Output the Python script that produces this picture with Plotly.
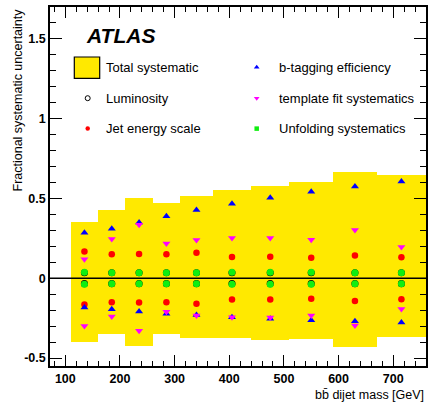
import plotly.graph_objects as go

# Bin edges of the b-bbar dijet mass distribution [GeV]
mass_edges = [110, 160, 210, 260, 310, 370, 440, 510, 590, 670, 760]

# Total systematic band (upper / lower edge), fractional
total_up = [0.350, 0.425, 0.506, 0.469, 0.513, 0.550, 0.581, 0.606, 0.669, 0.650]
total_down = [-0.398, -0.348, -0.423, -0.348, -0.373, -0.373, -0.385, -0.379, -0.429, -0.367]

# Individual components
lumi_up = [0.034, 0.034, 0.034, 0.034, 0.034, 0.034, 0.034, 0.034, 0.034, 0.034]
lumi_down = [-0.034, -0.034, -0.034, -0.034, -0.034, -0.034, -0.034, -0.034, -0.034, -0.034]
jes_up = [0.167, 0.150, 0.152, 0.150, 0.160, 0.133, 0.135, 0.129, 0.142, 0.131]
jes_down = [-0.165, -0.150, -0.152, -0.150, -0.160, -0.133, -0.133, -0.129, -0.142, -0.131]
btag_up = [0.285, 0.310, 0.350, 0.388, 0.427, 0.467, 0.504, 0.542, 0.575, 0.606]
btag_down = [-0.183, -0.194, -0.208, -0.223, -0.231, -0.244, -0.254, -0.263, -0.269, -0.277]
tmpl_up = [0.119, 0.246, 0.335, 0.217, 0.240, 0.252, 0.252, 0.242, 0.302, 0.196]
tmpl_down = [-0.300, -0.240, -0.329, -0.210, -0.233, -0.244, -0.246, -0.233, -0.296, -0.192]
unfold_up = [0.037, 0.035, 0.035, 0.035, 0.035, 0.037, 0.037, 0.037, 0.035, 0.035]
unfold_down = [-0.037, -0.035, -0.035, -0.035, -0.035, -0.037, -0.037, -0.037, -0.035, -0.035]

# Axis tick labels
y_tickvals = [-0.5, 0, 0.5, 1, 1.5]
y_ticktext = ["-0.5", "0", "0.5", "1", "1.5"]
x_tickvals = [100, 200, 300, 400, 500, 600, 700]
x_ticktext = ["100", "200", "300", "400", "500", "600", "700"]

legend_labels = ["Total systematic", "Luminosity", "Jet energy scale",
                 "b-tagging efficiency", "template fit systematics", "Unfolding systematics"]

centers = [(a + b) / 2 for a, b in zip(mass_edges[:-1], mass_edges[1:])]
widths = [b - a for a, b in zip(mass_edges[:-1], mass_edges[1:])]

YELLOW = "#FFE900"
FONT = "Liberation Sans, Arial, Helvetica, sans-serif"

fig = go.Figure()

# total systematic band as bars spanning each bin
fig.add_trace(go.Bar(
    x=centers, width=widths, base=total_down,
    y=[u - d for u, d in zip(total_up, total_down)],
    marker=dict(color=YELLOW, line=dict(width=0)),
    showlegend=False, hoverinfo="skip",
))


def add_pair(up, down, marker):
    fig.add_trace(go.Scatter(
        x=centers + centers, y=up + down, mode="markers",
        marker=marker, showlegend=False, cliponaxis=True,
    ))


lumi_marker = dict(symbol="circle-open", size=6, color="black", line=dict(width=1.1, color="black"))
jes_marker = dict(symbol="circle", size=6.5, color="#FF0000", line=dict(width=0))
btag_marker = dict(symbol="triangle-up", size=7, color="#0000FF", line=dict(width=0))
tmpl_marker = dict(symbol="triangle-down", size=7, color="#FF00FF", line=dict(width=0))
unfold_marker = dict(symbol="circle", size=7, color="#11EE11", line=dict(width=0))

add_pair(lumi_up, lumi_down, lumi_marker)
add_pair(jes_up, jes_down, jes_marker)
add_pair(btag_up, btag_down, btag_marker)
add_pair(tmpl_up, tmpl_down, tmpl_marker)
add_pair(unfold_up, unfold_down, unfold_marker)

# legend symbols on an overlay axis spanning the frame in [0, 1]
W, H = 434, 404
L, R, T, B = 50, 426, 5, 366


def fx(px):
    return (px - L) / (R - L)


def fy(py):
    return (B - py) / (B - T)


leg_items = [
    (87.7, 96.7, dict(symbol="circle-open", size=5, color="black", line=dict(width=1, color="black"))),
    (87.7, 127.3, dict(symbol="circle", size=4.5, color="#FF0000")),
    (256.7, 65.7, dict(symbol="triangle-up", size=5, color="#0000FF")),
    (256.7, 96.7, dict(symbol="triangle-down", size=5, color="#FF00FF")),
    (256.7, 127.3, dict(symbol="square", size=4.5, color="#11EE11")),
]
for px, py, mk in leg_items:
    fig.add_trace(go.Scatter(x=[fx(px)], y=[fy(py)], mode="markers", marker=mk,
                             xaxis="x2", yaxis="y2", showlegend=False, hoverinfo="skip"))

shapes = [
    # yellow legend box
    dict(type="rect", xref="paper", yref="paper", x0=fx(74.3), x1=fx(99.7), y0=fy(76.7), y1=fy(55.3),
         fillcolor=YELLOW, line=dict(color="black", width=1.2), layer="above"),
    # zero reference line
    dict(type="line", xref="paper", yref="y", x0=0, x1=1, y0=0, y1=0,
         line=dict(color="black", width=1.5), layer="above"),
]

text_pos = [(104.3, 65.7), (104.3, 96.7), (104.3, 127.3), (276.7, 65.7), (276.7, 96.7), (276.7, 127.3)]
annotations = []
for (px, py), lab in zip(text_pos, legend_labels):
    annotations.append(dict(x=fx(px), y=fy(py), xref="paper", yref="paper", text=lab,
                            showarrow=False, xanchor="left", yanchor="middle",
                            font=dict(family=FONT, size=13, color="black")))

annotations.append(dict(x=fx(84), y=fy(34), xref="paper", yref="paper", text="<b><i>ATLAS</i></b>",
                        showarrow=False, xanchor="left", yanchor="middle",
                        font=dict(family=FONT, size=21, color="black")))
annotations.append(dict(x=1, y=fy(395.5), xref="paper", yref="paper", text="bb\u0304 dijet mass [GeV]",
                        showarrow=False, xanchor="right", yanchor="middle",
                        font=dict(family=FONT, size=12.5, color="black")))
annotations.append(dict(x=fx(17), y=1, xref="paper", yref="paper",
                        text="Fractional systematic uncertainty", textangle=-90,
                        showarrow=False, xanchor="center", yanchor="top",
                        font=dict(family=FONT, size=12.5, color="black")))

axis_common = dict(
    showline=True, linecolor="black", linewidth=1.5, mirror="allticks",
    ticks="inside", tickcolor="black", tickwidth=1, showgrid=False, zeroline=False,
    tickfont=dict(family=FONT, size=12.5, color="black", weight="bold"),
)

fig.update_layout(
    width=W, height=H,
    margin=dict(l=L, r=W - R, t=T, b=H - B, pad=0),
    paper_bgcolor="white", plot_bgcolor="white",
    barmode="overlay", bargap=0,
    xaxis=dict(range=[72, 760], tickvals=x_tickvals, ticktext=x_ticktext, ticklen=11,
               minor=dict(dtick=20, tick0=0, ticklen=5, ticks="inside", tickcolor="black", showgrid=False),
               **axis_common),
    yaxis=dict(range=[-0.55, 1.7], tickvals=y_tickvals, ticktext=y_ticktext, ticklen=12,
               minor=dict(dtick=0.1, tick0=0, ticklen=6, ticks="inside", tickcolor="black", showgrid=False),
               **axis_common),
    xaxis2=dict(range=[0, 1], overlaying="x", visible=False, anchor="y2"),
    yaxis2=dict(range=[0, 1], overlaying="y", visible=False, anchor="x2"),
    shapes=shapes, annotations=annotations,
    showlegend=False,
)

fig.write_html("out.html")
